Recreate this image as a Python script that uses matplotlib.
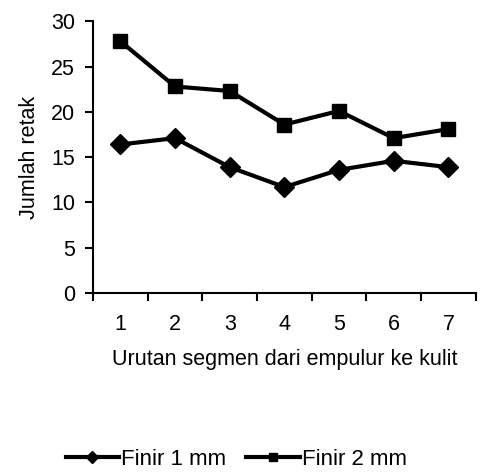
import matplotlib
matplotlib.use('Agg')
import matplotlib.pyplot as plt
import numpy as np

plt.rcParams['font.family'] = ['Liberation Sans', 'DejaVu Sans']

segments = [1, 2, 3, 4, 5, 6, 7]
finir_1mm = [16.4, 17.1, 13.9, 11.7, 13.6, 14.6, 13.9]
finir_2mm = [27.8, 22.8, 22.3, 18.6, 20.1, 17.1, 18.1]

fs = 15.5

fig = plt.figure(figsize=(4.92, 4.72), dpi=100)
ax = fig.add_axes([0.189, 0.379, 0.778, 0.576])

ax.plot(segments, finir_1mm, color='black', lw=3, marker='D', ms=10, label='Finir 1 mm')
ax.plot(segments, finir_2mm, color='black', lw=3, marker='s', ms=10, label='Finir 2 mm')

ax.set_xlim(0.5, 7.5)
ax.set_ylim(0, 30)
ax.set_yticks(np.arange(0, 31, 5))
ax.set_xticks(np.arange(0.5, 8, 1))
ax.set_xticklabels([])
ax.set_xticks(segments, minor=True)
ax.set_xticklabels([str(s) for s in segments], minor=True)
ax.tick_params(axis='x', which='minor', length=0, pad=15, labelsize=fs)
ax.tick_params(axis='x', which='major', length=6, width=1.5)
ax.tick_params(axis='y', length=6, width=1.5, labelsize=fs, pad=7)

for s in ['top', 'right']:
    ax.spines[s].set_visible(False)
for s in ['left', 'bottom']:
    ax.spines[s].set_linewidth(1.5)

ax.set_xlabel('Urutan segmen dari empulur ke kulit', fontsize=fs, labelpad=10)
ax.set_ylabel('Jumlah retak', fontsize=fs, labelpad=8)

fig.legend(loc='center', bbox_to_anchor=(0.48, 0.027), ncol=2, frameon=False,
           fontsize=16, handlelength=2.4, handletextpad=0.1, columnspacing=0.9,
           markerscale=0.6)

fig.savefig('out.png', dpi=100)
